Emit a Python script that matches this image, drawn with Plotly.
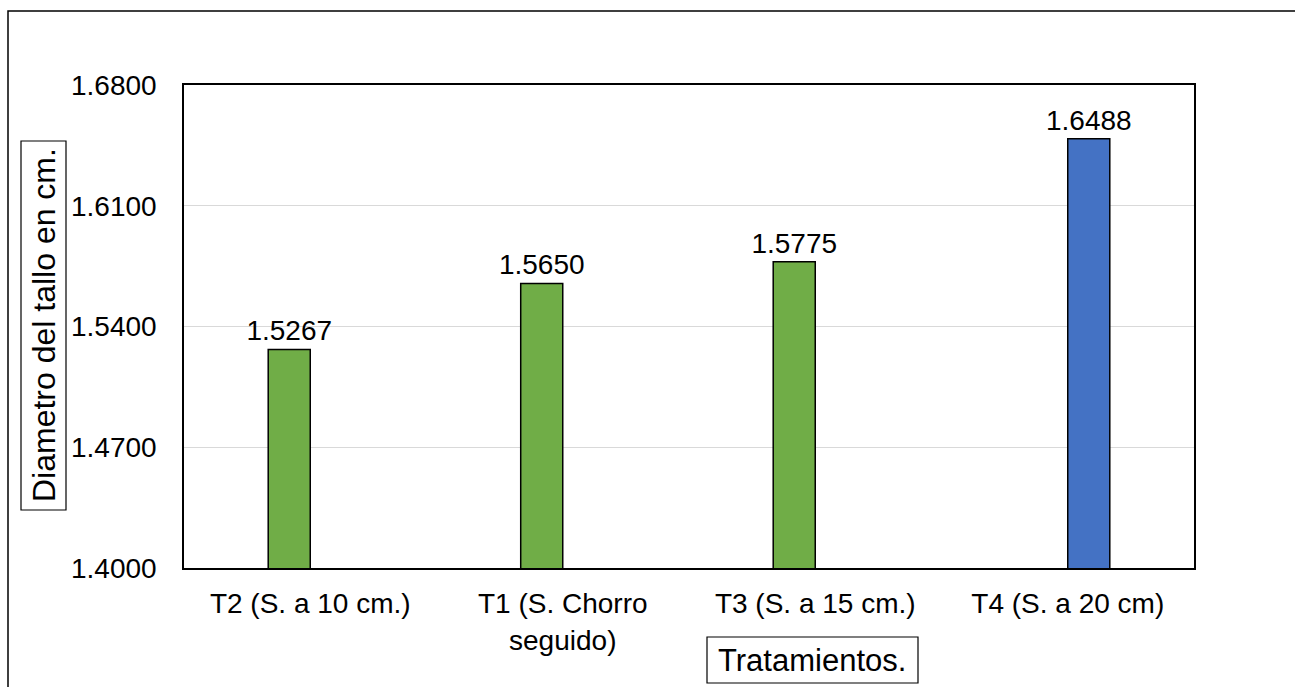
import plotly.graph_objects as go

# Stem diameter per treatment (cm); T4 is drawn as its own series
tratamientos = ["T2 (S. a 10 cm.)", "T1 (S. Chorro<br>seguido)", "T3 (S. a 15 cm.)", "T4 (S. a 20 cm)"]
serie_verde = [1.5267, 1.5650, 1.5775, None]
serie_azul = [None, None, None, 1.6488]
y_ticks = [1.40, 1.47, 1.54, 1.61, 1.68]

VERDE = "#70AD47"
AZUL = "#4472C4"

W, H = 1295, 687
L, R, T, B = 184, 1194, 85, 568


def px_x(p):
    return (p - L) / (R - L)


def px_y(p):
    return (B - p) / (B - T)


def etiquetas(vals):
    return [f"{v:.4f}" if v is not None else "" for v in vals]


fig = go.Figure()
for vals, color in ((serie_verde, VERDE), (serie_azul, AZUL)):
    fig.add_trace(
        go.Bar(
            x=tratamientos,
            y=vals,
            marker=dict(color=color, line=dict(color="black", width=1.5)),
            text=etiquetas(vals),
            textposition="outside",
            constraintext="none",
            textfont=dict(size=28, color="black"),
            cliponaxis=False,
        )
    )

fig.update_layout(
    width=W,
    height=H,
    margin=dict(l=L, r=W - R, t=T, b=H - B),
    plot_bgcolor="white",
    paper_bgcolor="white",
    font=dict(family="Liberation Sans, Arial", color="black", size=28),
    showlegend=False,
    barmode="group",
    bargap=0.667,
    bargroupgap=0,
    xaxis=dict(
        showline=True, linecolor="black", linewidth=1.5, mirror=True,
        tickfont=dict(size=28), ticks="", ticklabelstandoff=10,
    ),
    yaxis=dict(
        range=[1.40, 1.68], tickvals=y_ticks, tickformat=".4f",
        showgrid=True, gridcolor="#d9d9d9", gridwidth=1.3,
        showline=True, linecolor="black", linewidth=1.5, mirror=True,
        tickfont=dict(size=28), ticks="", ticklabelstandoff=20,
        zeroline=False,
    ),
    annotations=[
        dict(
            text="Diametro del tallo en cm.", textangle=-90,
            xref="paper", yref="paper", x=px_x(44), y=px_y(325),
            xanchor="center", yanchor="middle",
            showarrow=False, font=dict(size=32),
        ),
        dict(
            text="Tratamientos.",
            xref="paper", yref="paper", x=px_x(812), y=px_y(660),
            xanchor="center", yanchor="middle",
            showarrow=False, font=dict(size=31),
        ),
    ],
    shapes=[
        # chart area frame
        dict(
            type="rect", xref="paper", yref="paper",
            x0=px_x(8), y0=px_y(700), x1=px_x(1310), y1=px_y(11),
            line=dict(color="black", width=1.5), layer="below",
        ),
        # axis title boxes
        dict(
            type="rect", xref="paper", yref="paper",
            x0=px_x(21), y0=px_y(510), x1=px_x(66), y1=px_y(141),
            line=dict(color="black", width=1.2),
        ),
        dict(
            type="rect", xref="paper", yref="paper",
            x0=px_x(707), y0=px_y(683), x1=px_x(918), y1=px_y(637),
            line=dict(color="black", width=1.2),
        ),
    ],
)

fig.write_html("out.html")
